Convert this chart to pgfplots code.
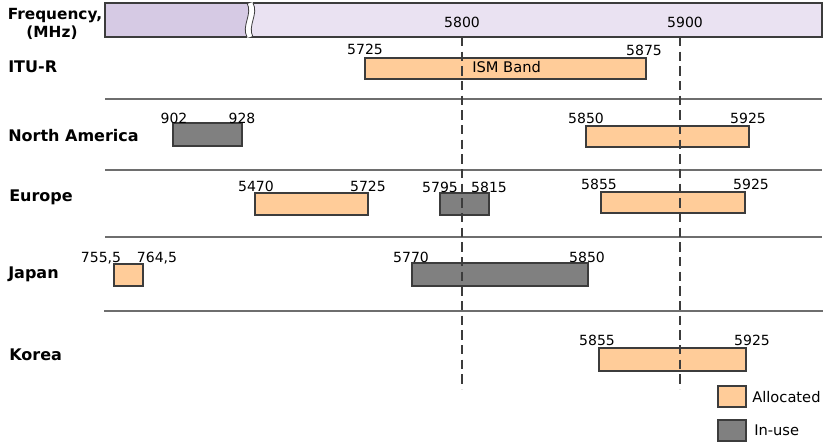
\documentclass[border=0pt]{standalone}
\usepackage{pgfplots}
\pgfplotsset{compat=1.18}
\usepackage{fontspec}
\setmainfont{DejaVu Sans}
\definecolor{alloc}{RGB}{255,204,153}
\definecolor{inuse}{RGB}{128,128,128}
\definecolor{edge}{RGB}{60,60,60}
\definecolor{hdrA}{RGB}{214,202,228}
\definecolor{hdrB}{RGB}{234,226,242}
\definecolor{sep}{RGB}{110,110,110}
\newcommand{\lab}[1]{\fontsize{12}{14}\selectfont\bfseries #1}
\newcommand{\num}[1]{\fontsize{10.5}{12}\selectfont #1}
\newcommand{\band}[5]{\addplot[draw=edge,line width=0.9pt,fill=#5] coordinates {(#1,#3) (#2,#3) (#2,#4) (#1,#4)} -- cycle;}
\begin{document}
\begin{tikzpicture}
\begin{axis}[
  scale only axis, width=620.25pt, height=334.5pt,
  xmin=0, xmax=827, ymin=0, ymax=446, y dir=reverse,
  hide axis, clip=false,
]
\coordinate (ll) at (axis cs:0,446);
\coordinate (ur) at (axis cs:827,0);
% header bar
\addplot[draw=none,fill=hdrA] coordinates {(105,3) (250,3) (250,37) (105,37)} -- cycle;
\addplot[draw=none,fill=hdrB] coordinates {(250,3) (822,3) (822,37) (250,37)} -- cycle;
\draw[edge,line width=1pt] (axis cs:105,3) rectangle (axis cs:822,37);
\draw[white,line width=4pt] (axis cs:250,37) .. controls (axis cs:244,26) and (axis cs:256,14) .. (axis cs:250,3);
\draw[edge,line width=0.6pt] (axis cs:247,37) .. controls (axis cs:241,26) and (axis cs:253,14) .. (axis cs:247,3);
\draw[edge,line width=0.6pt] (axis cs:253,37) .. controls (axis cs:247,26) and (axis cs:259,14) .. (axis cs:253,3);
\node[anchor=base,font=\fontsize{11.5}{13}\selectfont\bfseries] at (axis cs:55,19) {Frequency,};
\node[anchor=base,font=\fontsize{11.5}{13}\selectfont\bfseries] at (axis cs:52,37.5) {(MHz)};
\node[anchor=base,font=\fontsize{10.5}{12}\selectfont] at (axis cs:462,27) {5800};
\node[anchor=base,font=\fontsize{10.5}{12}\selectfont] at (axis cs:685,27) {5900};
% separators
\addplot[sep,line width=1.1pt] coordinates {(105,99) (822,99)};
\addplot[sep,line width=1.1pt] coordinates {(105,170) (822,170)};
\addplot[sep,line width=1.1pt] coordinates {(105,237) (822,237)};
\addplot[sep,line width=1.1pt] coordinates {(104,311) (823,311)};
% row labels
\node[anchor=base west,inner sep=0pt] at (axis cs:8,72.5) {\lab{ITU-R}};
\node[anchor=base west,inner sep=0pt] at (axis cs:8,141) {\lab{North America}};
\node[anchor=base west,inner sep=0pt] at (axis cs:9,201.5) {\lab{Europe}};
\node[anchor=base west,inner sep=0pt] at (axis cs:8,278) {\lab{Japan}};
\node[anchor=base west,inner sep=0pt] at (axis cs:9,360) {\lab{Korea}};
% ITU-R
\band{365}{646}{58}{79}{alloc}
\node[anchor=base] at (axis cs:365,54.5) {\num{5725}};
\node[anchor=base] at (axis cs:644,55) {\num{5875}};
\node[anchor=base west,inner sep=0pt,font=\fontsize{11}{13}\selectfont] at (axis cs:472,72.7) {ISM Band};
% North America
\band{173}{242}{123}{146}{inuse}
\node[anchor=base] at (axis cs:174,123) {\num{902}};
\node[anchor=base] at (axis cs:242,123) {\num{928}};
\band{586}{749}{126}{147}{alloc}
\node[anchor=base] at (axis cs:586,123) {\num{5850}};
\node[anchor=base] at (axis cs:748,123) {\num{5925}};
% Europe
\band{255}{368}{193}{215}{alloc}
\node[anchor=base] at (axis cs:256,191.5) {\num{5470}};
\node[anchor=base] at (axis cs:368,191.5) {\num{5725}};
\band{440}{489}{193}{215}{inuse}
\node[anchor=base] at (axis cs:440,192) {\num{5795}};
\node[anchor=base] at (axis cs:489,192) {\num{5815}};
\band{601}{745}{192}{213}{alloc}
\node[anchor=base] at (axis cs:599,189) {\num{5855}};
\node[anchor=base] at (axis cs:751,189) {\num{5925}};
% Japan
\band{114}{143}{264}{286}{alloc}
\node[anchor=base] at (axis cs:101,262.5) {\num{755,5}};
\node[anchor=base] at (axis cs:157,262.5) {\num{764,5}};
\band{412}{588}{263}{286}{inuse}
\node[anchor=base] at (axis cs:411,262) {\num{5770}};
\node[anchor=base] at (axis cs:587,262) {\num{5850}};
% Korea
\band{599}{746}{348}{371}{alloc}
\node[anchor=base] at (axis cs:597,345.5) {\num{5855}};
\node[anchor=base] at (axis cs:752,345.5) {\num{5925}};
% dashed reference lines
\addplot[edge,line width=1.3pt,dash pattern=on 7pt off 4pt] coordinates {(462,37) (462,389)};
\addplot[edge,line width=1.3pt,dash pattern=on 7pt off 4pt] coordinates {(680,37) (680,389)};
% legend
\band{718}{746}{386}{407}{alloc}
\band{718}{746}{420}{441}{inuse}
\node[anchor=west,inner sep=0pt,font=\fontsize{11}{13}\selectfont] at (axis cs:752,397) {Allocated};
\node[anchor=west,inner sep=0pt,font=\fontsize{11}{13}\selectfont] at (axis cs:754,430) {In-use};
\end{axis}
\pgfresetboundingbox
\path[use as bounding box] (ll) rectangle (ur);
\end{tikzpicture}
\end{document}
